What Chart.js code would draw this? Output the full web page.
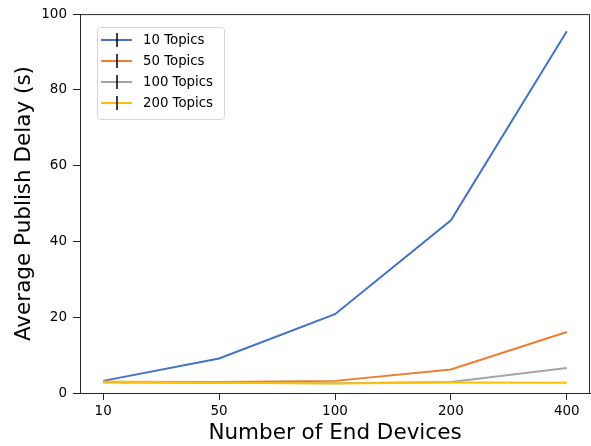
<!DOCTYPE html>
<html>
<head>
<meta charset="utf-8">
<script src="https://cdn.jsdelivr.net/npm/chart.js@4.4.0/dist/chart.umd.min.js"></script>
<style>
html,body{margin:0;padding:0;background:#fff;}
#wrap{width:591px;height:446px;}
</style>
</head>
<body>
<div id="wrap"><canvas id="c" width="591" height="446"></canvas></div>
<script>
const categories = ['10', '50', '100', '200', '400'];
const topics10 = [3.2, 9.1, 20.8, 45.6, 95.5];
const topics50 = [3.0, 2.9, 3.2, 6.2, 16.1];
const topics100 = [2.8, 2.7, 2.6, 2.9, 6.6];
const topics200 = [3.0, 2.7, 2.5, 2.8, 2.7];
const yTicks = [0, 20, 40, 60, 80, 100];
const seriesNames = ['10 Topics', '50 Topics', '100 Topics', '200 Topics'];
const seriesColors = ['#4472C4', '#ED7D31', '#A5A5A5', '#FFC000'];

const FONT = 'DejaVu Sans';
const AX = '#262626';

function pts(arr){ return arr.map((v,i)=>({x:i,y:v})); }
const allSeries = [topics10, topics50, topics100, topics200];

const datasets = allSeries.map((s,i)=>({
  label: seriesNames[i],
  data: pts(s),
  borderColor: seriesColors[i],
  backgroundColor: seriesColors[i],
  borderWidth: 2,
  pointRadius: 0,
  tension: 0,
  fill: false,
  order: 3 - i
}));

const framePlugin = {
  id: 'frame',
  afterDraw(chart){
    const {ctx, chartArea:a} = chart;
    ctx.save();
    ctx.strokeStyle = AX;
    ctx.lineWidth = 1;
    ctx.beginPath();
    ctx.moveTo(a.left, a.top + 0.5);
    ctx.lineTo(a.right - 0.5, a.top + 0.5);
    ctx.lineTo(a.right - 0.5, a.bottom);
    ctx.stroke();
    // legend
    const lx = 97, ly = 27, lw = 127, lh = 92;
    ctx.fillStyle = 'rgba(255,255,255,0.8)';
    ctx.strokeStyle = '#d6d6d6';
    ctx.lineWidth = 1;
    ctx.beginPath();
    ctx.roundRect(lx + 0.5, ly + 0.5, lw, lh, 3);
    ctx.fill();
    ctx.stroke();
    ctx.font = '13.3px "' + FONT + '"';
    ctx.textBaseline = 'middle';
    ctx.textAlign = 'left';
    const rows = [40, 61, 82, 103];
    chart.data.datasets.forEach((d,i)=>{
      const y = rows[i];
      ctx.strokeStyle = d.borderColor;
      ctx.lineWidth = 2;
      ctx.beginPath();
      ctx.moveTo(101, y);
      ctx.lineTo(132, y);
      ctx.stroke();
      ctx.strokeStyle = '#000';
      ctx.lineWidth = 1.5;
      ctx.beginPath();
      ctx.moveTo(117, y - 7);
      ctx.lineTo(117, y + 7);
      ctx.stroke();
      ctx.fillStyle = '#000';
      ctx.fillText(d.label, 143, y + 1);
    });
    ctx.restore();
  }
};

new Chart(document.getElementById('c'), {
  type: 'line',
  data: { datasets },
  options: {
    responsive: false,
    animation: false,
    devicePixelRatio: 1,
    layout: { padding: { left: 0, right: 1, top: 13, bottom: 0 } },
    plugins: { legend: { display: false }, tooltip: { enabled: false } },
    scales: {
      x: {
        type: 'linear',
        min: -0.2,
        max: 4.2,
        afterBuildTicks(scale){ scale.ticks = categories.map((c,i)=>({value:i})); },
        afterFit(scale){ scale.height = 53; },
        ticks: {
          callback: (v)=> categories[v],
          color: '#000',
          font: { family: FONT, size: 13.5 },
          padding: 3,
          maxRotation: 0,
          autoSkip: false
        },
        grid: { display: true, drawOnChartArea: false, drawTicks: true, tickLength: 7, color: AX },
        border: { display: true, color: AX, width: 1 },
        title: { display: true, text: 'Number of End Devices', color: '#000', font: { family: FONT, size: 21.5, lineHeight: 1.2 }, padding: { top: 0, bottom: 0 } }
      },
      y: {
        type: 'linear',
        min: 0,
        max: 100,
        afterBuildTicks(scale){ scale.ticks = yTicks.map(v=>({value:v})); },
        afterFit(scale){ scale.width = 80; },
        ticks: {
          color: '#000',
          font: { family: FONT, size: 13.5 },
          padding: 6
        },
        grid: { display: true, drawOnChartArea: false, drawTicks: true, tickLength: 7, color: AX },
        border: { display: true, color: AX, width: 1 },
        title: { display: true, text: 'Average Publish Delay (s)', color: '#000', font: { family: FONT, size: 21.5, lineHeight: 1.2 }, padding: { top: 12, bottom: 0 } }
      }
    }
  },
  plugins: [framePlugin]
});
</script>
</body>
</html>
